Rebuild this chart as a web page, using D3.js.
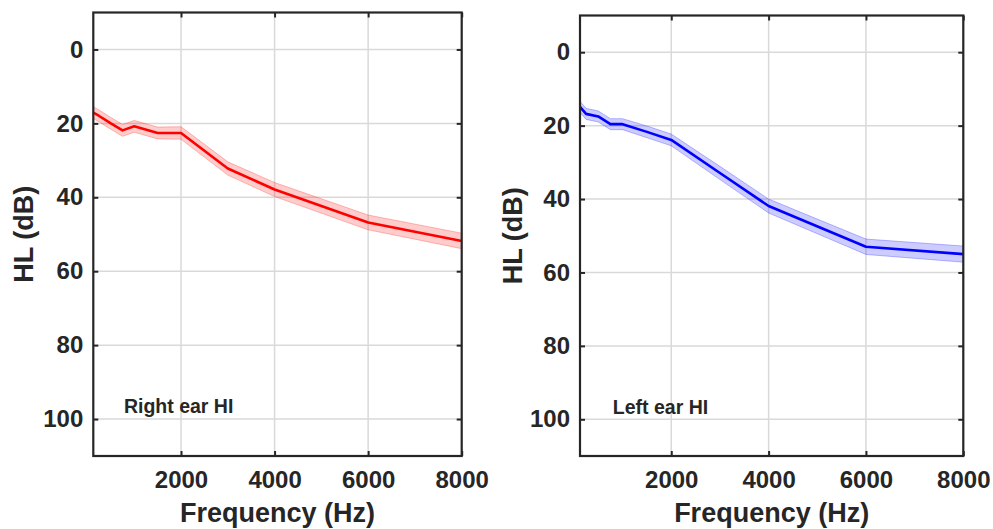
<!DOCTYPE html>
<html>
<head>
<meta charset="utf-8">
<script src="https://cdn.jsdelivr.net/npm/d3@7"></script>
<style>
  html, body { margin: 0; padding: 0; background: #fff; }
  svg { display: block; }
  text { font-family: "Liberation Sans", Arial, Helvetica, sans-serif; font-weight: bold; fill: #262626; }
</style>
</head>
<body>
<svg id="chart" width="993" height="529"></svg>
<script>
// ---- data ----
const freqs = [125, 250, 500, 750, 1000, 1500, 2000, 3000, 4000, 6000, 8000];
const rightHL  = [17.1, 18.0, 20.0, 21.9, 20.8, 22.6, 22.6, 32.2, 37.9, 46.8, 51.8];
const rightErr = [1.6, 1.6, 1.6, 1.6, 1.6, 1.6, 1.7, 1.8, 1.9, 2.0, 2.1];
const leftHL   = [14.9, 16.8, 17.5, 19.6, 19.6, 21.7, 23.9, 32.9, 41.9, 53.0, 55.0];
const leftErr  = [1.5, 1.5, 1.5, 1.5, 1.5, 1.6, 1.6, 1.8, 1.9, 2.1, 2.2];
const xTicks = [2000, 4000, 6000, 8000];
const yTicks = [0, 20, 40, 60, 80, 100];
const xDomain = [125, 8000];
const yDomain = [-10, 110];
const xLabel = "Frequency (Hz)";
const yLabel = "HL (dB)";
const labelRight = "Right ear HI";
const labelLeft = "Left ear HI";

const svg = d3.select("#chart");

function panel(opts) {
  const x = d3.scaleLinear().domain(xDomain).range([opts.x0, opts.x1]);
  const y = d3.scaleLinear().domain(yDomain).range([opts.y0, opts.y1]);
  const g = svg.append("g");

  // grid
  g.append("g").selectAll("line").data(xTicks).join("line")
    .attr("x1", d => x(d)).attr("x2", d => x(d))
    .attr("y1", opts.y0).attr("y2", opts.y1)
    .attr("stroke", "#d9d9d9").attr("stroke-width", 1.5);
  g.append("g").selectAll("line").data(yTicks).join("line")
    .attr("y1", d => y(d)).attr("y2", d => y(d))
    .attr("x1", opts.x0).attr("x2", opts.x1)
    .attr("stroke", "#d9d9d9").attr("stroke-width", 1.5);

  const data = freqs.map((f, i) => ({f, v: opts.values[i], e: opts.err[i]}));

  // shaded error band
  g.append("path").datum(data)
    .attr("d", d3.area().x(d => x(d.f)).y0(d => y(d.v - d.e)).y1(d => y(d.v + d.e)))
    .attr("fill", opts.color).attr("fill-opacity", 0.2).attr("stroke", "none");
  ["lo", "hi"].forEach(k => {
    g.append("path").datum(data)
      .attr("d", d3.line().x(d => x(d.f)).y(d => y(k === "lo" ? d.v - d.e : d.v + d.e)))
      .attr("fill", "none").attr("stroke", opts.color).attr("stroke-opacity", 0.25).attr("stroke-width", 1);
  });

  // mean line
  g.append("path").datum(data)
    .attr("d", d3.line().x(d => x(d.f)).y(d => y(d.v)))
    .attr("fill", "none").attr("stroke", opts.color).attr("stroke-width", 2.6)
    .attr("stroke-linejoin", "round");

  // axes (ticks inward on all sides)
  const tk = 5;
  const bottom = g.append("g").attr("transform", `translate(0,${opts.y1})`)
    .call(d3.axisBottom(x).tickValues(xTicks).tickSize(-tk).tickPadding(15).tickFormat(d3.format("d")));
  const top = g.append("g").attr("transform", `translate(0,${opts.y0})`)
    .call(d3.axisTop(x).tickValues(xTicks).tickSize(-tk).tickFormat(""));
  const left = g.append("g").attr("transform", `translate(${opts.x0},0)`)
    .call(d3.axisLeft(y).tickValues(yTicks).tickSize(-tk).tickPadding(10).tickFormat(d3.format("d")));
  const right = g.append("g").attr("transform", `translate(${opts.x1},0)`)
    .call(d3.axisRight(y).tickValues(yTicks).tickSize(-tk).tickFormat(""));
  [bottom, top, left, right].forEach(a => {
    a.select(".domain").remove();
    a.selectAll(".tick line").attr("stroke", "#262626").attr("stroke-width", 2);
    a.selectAll(".tick text").attr("font-size", 24).attr("fill", "#262626")
      .style("font-family", "'Liberation Sans', Arial, sans-serif").style("font-weight", "bold");
  });
  bottom.selectAll(".tick text").attr("dy", "0.71em");

  // frame
  g.append("rect").attr("x", opts.x0).attr("y", opts.y0)
    .attr("width", opts.x1 - opts.x0).attr("height", opts.y1 - opts.y0)
    .attr("fill", "none").attr("stroke", "#262626").attr("stroke-width", 2.2);

  // axis labels
  g.append("text").attr("x", (opts.x0 + opts.x1) / 2).attr("y", 522)
    .attr("text-anchor", "middle").attr("font-size", 27).text(xLabel);
  g.append("text")
    .attr("transform", `translate(${opts.ylx},${(opts.y0 + opts.y1) / 2}) rotate(-90)`)
    .attr("text-anchor", "middle").attr("font-size", 27).text(yLabel);

  // annotation
  g.append("text").attr("x", x(opts.annX)).attr("y", y(opts.annY))
    .attr("font-size", 19.5).attr("fill", "#000").text(opts.label);
}

panel({x0: 93.3, x1: 461.7, y0: 12.5, y1: 456, ylx: 33, color: "#ff0000",
       values: rightHL, err: rightErr, label: labelRight, annX: 780, annY: 98.5});
panel({x0: 580, x1: 963.3, y0: 15.5, y1: 456, ylx: 522, color: "#0000ff",
       values: leftHL, err: leftErr, label: labelLeft, annX: 800, annY: 98.5});
</script>
</body>
</html>
